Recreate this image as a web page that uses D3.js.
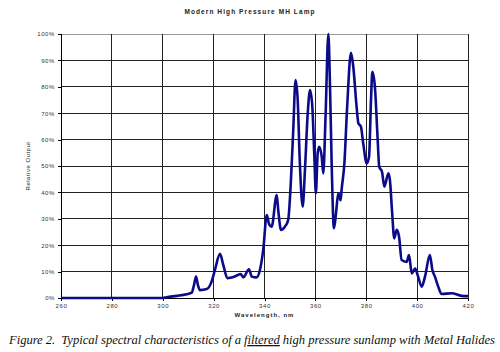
<!DOCTYPE html>
<html><head><meta charset="utf-8">
<script src="https://cdn.jsdelivr.net/npm/d3@7"></script>
<style>body{margin:0;background:#fff}svg{display:block}</style>
</head><body>
<script>
const wavelength = [260,300,301.5,305.5,309.4,311.4,312.3,313.1,313.8,314.6,317.3,319.2,320.5,322.5,323.8,325.4,327.1,329.1,330.6,331.7,333.9,335,336.9,338.2,339.5,340.9,341.8,342.8,344.8,345.4,346.5,348,349.3,350.4,351.3,352.2,353,353.9,355,355.9,357,357.9,358.8,359.6,360.2,360.9,361.5,362.5,363.1,364,365.1,365.7,366.4,367.3,368.1,369,369.9,370.3,371.4,372.5,374,374.9,376.2,376.9,377.9,378.8,380.2,381.1,381.9,382.4,383.4,384.5,385.1,386.2,387.1,388.7,389.3,390.2,391,392,392.9,393.9,395.9,396.8,397.9,399.2,400.4,401.8,403.1,405,406,407,408.3,409.6,413.6,417.5,420];
const output = [0,0,0.3,0.8,1.4,2,5,8.1,5,3,3.4,6.2,10.6,16.7,12.5,7.5,7.8,8.5,9.1,7.8,10.9,8.1,7.8,10.6,18.2,31.4,28,27,39,33.3,25.8,27,29.5,44.7,63.6,82.6,76,51,34.6,48.5,70,78.8,72.5,53.5,39.7,54.8,57.3,53.5,47.2,68.7,100,82.6,51,26.4,32,39.7,37,41,51,72.5,92.9,87.6,72.5,66.2,64.9,58.6,51,53.5,76,85.7,80,59.8,49.7,47.8,42.2,47.2,44.7,32,22.6,25.8,23.2,14.4,13.7,16.3,9.3,11.2,8.1,4.3,8.1,16.3,10.6,8.1,4.3,1.5,1.8,0.8,0.7];
const xTicks = [260,280,300,320,340,360,380,400,420];
const yTicks = [0,10,20,30,40,50,60,70,80,90,100];
const title = "Modern High Pressure MH Lamp";
const xLabel = "Wavelength, nm";
const yLabel = "Relative Output";

const W=500,H=352;
const m={l:61,r:32,t:34,b:54};
const svg=d3.select("body").append("svg").attr("width",W).attr("height",H);
const x=d3.scaleLinear().domain([260,420]).range([m.l,W-m.r]);
const y=d3.scaleLinear().domain([0,100]).range([H-m.b,m.t]);

svg.append("g").selectAll("line").data(yTicks.filter(d=>d>0)).join("line")
  .attr("x1",x(260)).attr("x2",x(420)).attr("y1",d=>y(d)).attr("y2",d=>y(d))
  .attr("stroke",d=>d===100?"#9a9a9a":"#222").attr("stroke-width",1).attr("shape-rendering","crispEdges");
svg.append("g").selectAll("line").data(xTicks.filter(d=>d>260)).join("line")
  .attr("x1",d=>x(d)).attr("x2",d=>x(d)).attr("y1",y(0)).attr("y2",y(100))
  .attr("stroke","#222").attr("stroke-width",1).attr("shape-rendering","crispEdges");

const fontSans="'Liberation Sans', Arial, sans-serif";
const yAxis=svg.append("g").attr("transform",`translate(${m.l},0)`)
  .call(d3.axisLeft(y).tickValues(yTicks).tickFormat(d=>d+"%").tickSize(3).tickPadding(3));
const xAxis=svg.append("g").attr("transform",`translate(0,${y(0)})`)
  .call(d3.axisBottom(x).tickValues(xTicks).tickSize(3).tickPadding(3));
[yAxis,xAxis].forEach(a=>{
  a.selectAll("path,line").attr("stroke","#000").attr("shape-rendering","crispEdges");
  a.selectAll("text").attr("font-family",fontSans).attr("font-size",6).attr("fill","#333").attr("letter-spacing","0.6px");
});

svg.append("path").datum(wavelength.map((w,i)=>[w,output[i]]))
  .attr("fill","none").attr("stroke","#0b0b8a").attr("stroke-width",2.6).attr("stroke-linejoin","round")
  .attr("d",d3.line().x(d=>x(d[0])).y(d=>y(d[1])).curve(d3.curveMonotoneX));

svg.append("text").attr("x",250).attr("y",14).attr("text-anchor","middle")
  .attr("font-family",fontSans).attr("font-size",6.5).attr("font-weight","bold").attr("letter-spacing","1.1px").attr("fill","#222").text(title);
svg.append("text").attr("x",(x(260)+x(420))/2).attr("y",317).attr("text-anchor","middle")
  .attr("font-family",fontSans).attr("font-size",6).attr("font-weight","bold").attr("letter-spacing","1px").attr("fill","#222").text(xLabel);
svg.append("text").attr("transform",`translate(30,${(y(0)+y(100))/2}) rotate(-90)`).attr("text-anchor","middle")
  .attr("font-family",fontSans).attr("font-size",6).attr("letter-spacing","0.5px").attr("fill","#222").text(yLabel);

const cap=svg.append("text").attr("x",9).attr("y",344).style("white-space","pre")
  .attr("textLength",486).attr("lengthAdjust","spacing")
  .attr("font-family","'Liberation Serif', 'Times New Roman', serif").attr("font-size",12.6).attr("font-style","italic").attr("fill","#111");
cap.append("tspan").text("Figure 2.  Typical spectral characteristics of a ");
cap.append("tspan").attr("text-decoration","underline").text("filtered");
cap.append("tspan").text(" high pressure sunlamp with Metal Halides");
</script>
</body></html>
